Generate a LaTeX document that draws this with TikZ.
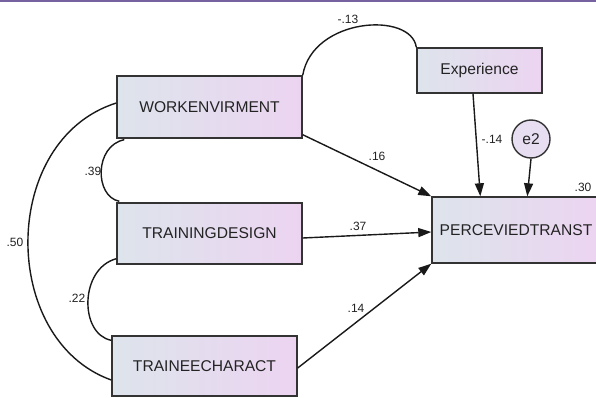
\documentclass[tikz,border=0pt]{standalone}
\usepackage{fontspec}
\setmainfont{Liberation Sans}
\usetikzlibrary{arrows.meta,calc}
\definecolor{boxL}{RGB}{221,228,236}
\definecolor{boxR}{RGB}{236,212,241}
\definecolor{circF}{RGB}{232,222,242}
\definecolor{topline}{RGB}{118,98,158}
\definecolor{txt}{RGB}{35,35,35}
\begin{document}
\begin{tikzpicture}[x=1pt,y=-1pt,
  box/.style={draw=black!80, line width=1.4pt, left color=boxL, right color=boxR,
    text=txt, font=\fontsize{15.6}{18}\selectfont, inner sep=0pt},
  errc/.style={circle, draw=black!80, line width=1.4pt, fill=circF, text=txt,
    font=\fontsize{15.6}{18}\selectfont, minimum size=38pt, inner sep=0pt},
  path/.style={line width=1.4pt, black!90, -{Triangle[length=13pt,width=9pt]}},
  cov/.style={line width=1.4pt, black!90},
  lab/.style={text=txt, font=\fontsize{12}{14}\selectfont, inner sep=0pt}]
\useasboundingbox (0,0) rectangle (596,398);
\fill[white] (0,0) rectangle (596,398);
\draw[topline, line width=2pt] (0,1.5) -- (596,1.5);

\node[box, minimum width=185pt, minimum height=62pt] (work) at (209.5,107) {WORKENVIRMENT};
\node[box, minimum width=125pt, minimum height=45pt] (exp) at (479.5,70.5) {Experience};
\node[box, minimum width=185pt, minimum height=61pt] (train) at (209.5,233.5) {TRAININGDESIGN};
\node[box, minimum width=185pt, minimum height=60pt] (trainee) at (204.5,366) {TRAINEECHARACT};
\node[box, minimum width=168pt, minimum height=66pt] (perc) at (516,230) {PERCEVIEDTRANST};
\node[errc] (e2) at (531,139) {e2};

% regression paths
\draw[path] ($(work.south east)+(0,-4)$) -- (perc.north west);
\draw[path] ($(exp.south)+(-6.5,0)$) -- ($(perc.north west)+(49,0)$);
\draw[path] (e2.south) -- ($(perc.north west)+(96,0)$);
\draw[path] ($(train.east)+(0,4.5)$) -- ($(perc.west)+(0,2)$);
\draw[path] ($(trainee.east)+(0,2)$) -- (perc.south west);

% covariances
\draw[cov] (work.north east) .. controls ($(work.north east)+(10,-58)$) and ($(exp.north west)+(-5,-36)$) .. (exp.north west);
\draw[cov] ($(work.south west)+(8,1)$) .. controls ($(work.south west)+(-22,7)$) and ($(train.north west)+(-22,-6)$) .. ($(train.north west)+(3,-1)$);
\draw[cov] ($(train.south west)+(0,-6)$) .. controls ($(train.south west)+(-37,4)$) and ($(trainee.north west)+(-32,-1)$) .. ($(trainee.north west)+(0,5)$);
\draw[cov] ($(work.west)+(0,-4)$) .. controls ($(work.west)+(-117,33)$) and ($(trainee.west)+(-112,-26)$) .. ($(trainee.west)+(0,14)$);

% labels
\node[lab] (l13) at (348,19) {-.13};
\node[lab] (l14a) at (492,139) {-.14};
\node[lab] (l30) at (583,187) {.30};
\node[lab] (l16) at (377,156) {.16};
\node[lab] (l37) at (358,226) {.37};
\node[lab] (l14b) at (356,308) {.14};
\node[lab] (l39) at (93,171) {.39};
\node[lab] (l22) at (77,298) {.22};
\node[lab] (l50) at (15,242) {.50};
\end{tikzpicture}
\end{document}
